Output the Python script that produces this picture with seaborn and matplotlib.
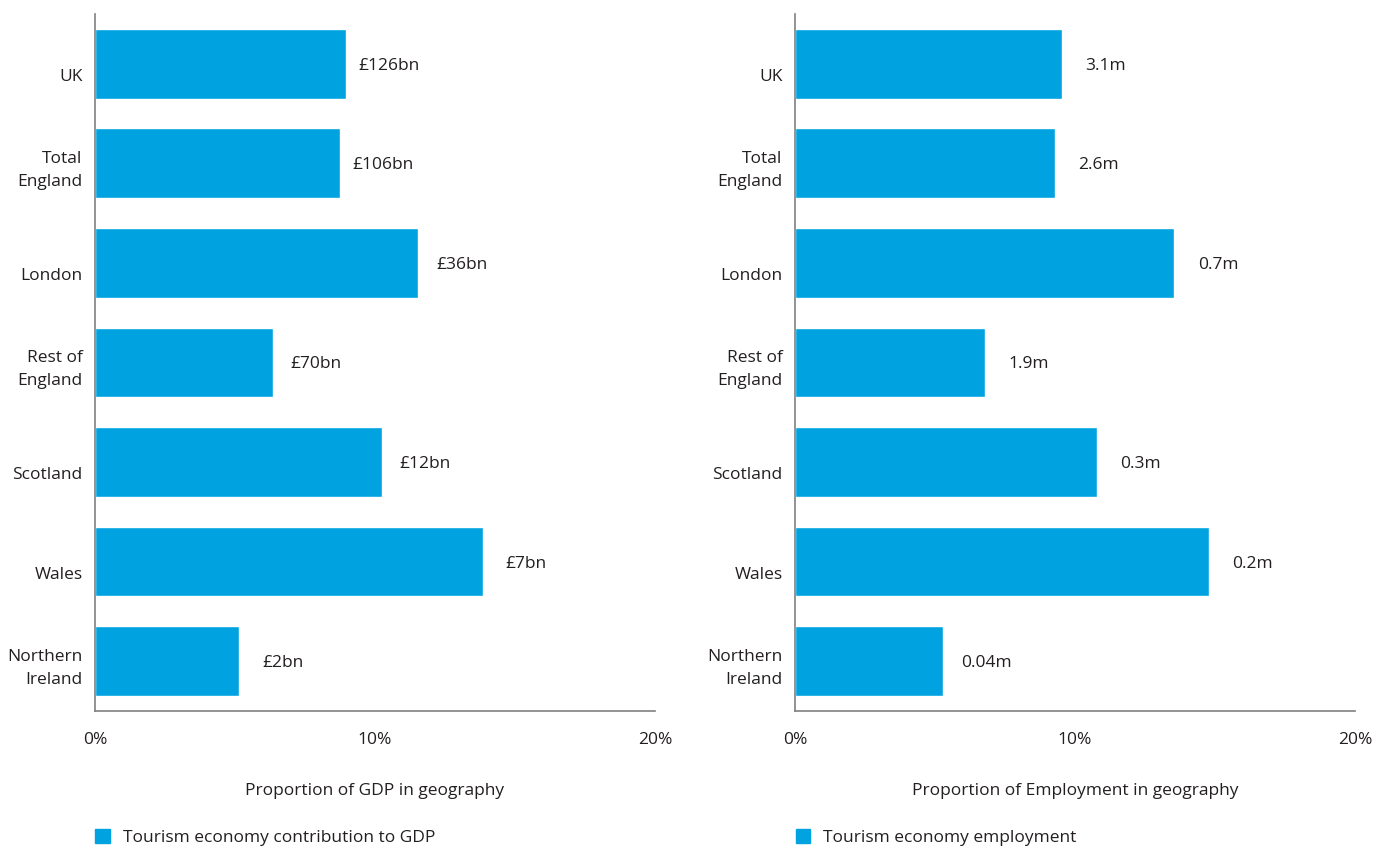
import matplotlib
matplotlib.use("Agg")
import matplotlib.pyplot as plt
import matplotlib.transforms as mtransforms
from matplotlib.patches import Patch
import seaborn as sns

regions = ["UK", "Total\nEngland", "London", "Rest of\nEngland", "Scotland", "Wales", "Northern\nIreland"]
gdp_share = [8.95, 8.75, 11.55, 6.35, 10.25, 13.85, 5.15]
gdp_labels = ["£126bn", "£106bn", "£36bn", "£70bn", "£12bn", "£7bn", "£2bn"]
emp_share = [9.55, 9.3, 13.55, 6.8, 10.8, 14.8, 5.3]
emp_labels = ["3.1m", "2.6m", "0.7m", "1.9m", "0.3m", "0.2m", "0.04m"]

BLUE = "#00A3E0"
TEXT = "#231F20"

sns.set_theme(style="white")
plt.rcParams["font.family"] = ["Open Sans", "DejaVu Sans"]

fig = plt.figure(figsize=(13.76, 8.46), dpi=100)
ax1 = fig.add_axes([0.069, 0.1596, 0.407, 0.824])
ax2 = fig.add_axes([0.5778, 0.1596, 0.407, 0.824])


def draw(ax, values, labels, xlabel, legend_text):
    sns.barplot(x=values, y=regions, orient="h", color=BLUE, width=0.7,
                saturation=1, ax=ax)
    ax.set_xlim(0, 20)
    ax.set_ylim(6.5, -0.5)
    ax.set_xticks([0, 10, 20])
    ax.set_xticklabels(["0%", "10%", "20%"])
    ax.tick_params(axis="both", length=0, labelsize=12.5, colors=TEXT)
    ax.tick_params(axis="x", pad=15)
    ax.tick_params(axis="y", pad=9)
    for lab in ax.get_yticklabels():
        lab.set_horizontalalignment("right")
        lab.set_linespacing(1.55)
        # single-line names sit a little lower than the bar centre
        shift = -2 if "\n" in lab.get_text() else -11
        lab.set_transform(lab.get_transform() + mtransforms.ScaledTranslation(
            0, shift / 100, fig.dpi_scale_trans))
    ax.set_xlabel(xlabel, fontsize=12.5, color=TEXT, labelpad=25)
    ax.set_ylabel("")
    for side in ["top", "right"]:
        ax.spines[side].set_visible(False)
    for side in ["left", "bottom"]:
        ax.spines[side].set_color("#808080")
        ax.spines[side].set_linewidth(1.2)
    for p, txt in zip(ax.patches, labels):
        ax.text(p.get_width() + 1.55, p.get_y() + p.get_height() / 2, txt,
                ha="center", va="center_baseline", fontsize=12.5, color=TEXT)
    x0 = ax.get_position().x0
    fig.legend(handles=[Patch(color=BLUE)], labels=[legend_text],
               loc="lower left", bbox_to_anchor=(x0 - 0.011, -0.018),
               frameon=False, handlelength=0.85, handleheight=0.85,
               handletextpad=0.75, fontsize=12.5, labelcolor=TEXT)


draw(ax1, gdp_share, gdp_labels, "Proportion of GDP in geography",
     "Tourism economy contribution to GDP")
draw(ax2, emp_share, emp_labels, "Proportion of Employment in geography",
     "Tourism economy employment")

fig.savefig("out.png", dpi=100)
